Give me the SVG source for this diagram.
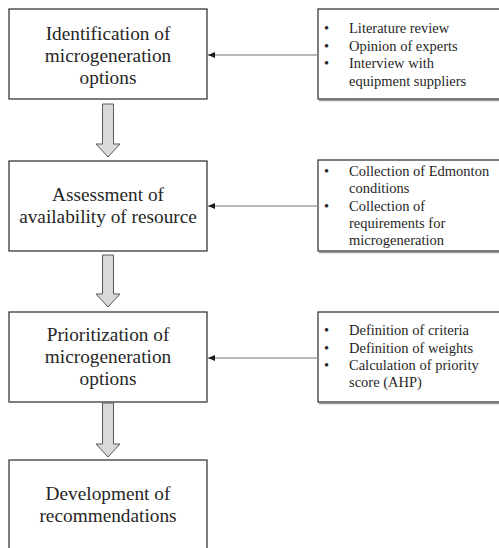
<svg xmlns="http://www.w3.org/2000/svg" width="499" height="548" viewBox="0 0 499 548">
<style>
.box{fill:#ffffff;stroke:#3a3a3a;stroke-width:1.3}
.rbox{fill:#ffffff;stroke:#3a3a3a;stroke-width:1.3}
.shadow{fill:none;stroke:#9a9a9a;stroke-width:1.5}
.big{font-family:"Liberation Serif","Times New Roman",serif;font-size:19.3px;fill:#262626;text-anchor:middle}
.small{font-family:"Liberation Serif","Times New Roman",serif;font-size:14.5px;fill:#262626}
.conn{stroke:#a0a0a0;stroke-width:1.3;fill:none}
.flow{fill:#d9d9d9;stroke:#5a5a5a;stroke-width:1}
</style>
<defs>
<marker id="ah" markerWidth="8" markerHeight="6" refX="7" refY="3" orient="auto" markerUnits="userSpaceOnUse">
<path d="M0,0 L7,3 L0,6 Z" fill="#1a1a1a"/>
</marker>
</defs>
<rect width="499" height="548" fill="#ffffff"/>

<g id="step1">
<rect class="box" x="9" y="9" width="198" height="90"/>
<text class="big" x="108" y="39.5">Identification of</text>
<text class="big" x="108" y="61.5">microgeneration</text>
<text class="big" x="108" y="83.5">options</text>
</g>

<g id="step2">
<rect class="box" x="9" y="161" width="198" height="90"/>
<text class="big" x="108" y="201">Assessment of</text>
<text class="big" x="108" y="223">availability of resource</text>
</g>

<g id="step3">
<rect class="box" x="9" y="312" width="198" height="90"/>
<text class="big" x="108" y="341">Prioritization of</text>
<text class="big" x="108" y="363">microgeneration</text>
<text class="big" x="108" y="385">options</text>
</g>

<g id="step4">
<rect class="box" x="9" y="460" width="198" height="100"/>
<text class="big" x="108" y="500">Development of</text>
<text class="big" x="108" y="522">recommendations</text>
</g>

<g id="methods1">
<line class="shadow" x1="319" y1="100.5" x2="505" y2="100.5"/>
<rect class="rbox" x="318" y="9" width="190" height="90"/>
<text class="small" x="324" y="33">•</text>
<text class="small" x="349" y="33">Literature review</text>
<text class="small" x="324" y="50.5">•</text>
<text class="small" x="349" y="50.5">Opinion of experts</text>
<text class="small" x="324" y="68">•</text>
<text class="small" x="349" y="68">Interview with</text>
<text class="small" x="349" y="85.5">equipment suppliers</text>
</g>

<g id="methods2">
<line class="shadow" x1="319" y1="252.5" x2="505" y2="252.5"/>
<rect class="rbox" x="318" y="160" width="190" height="91"/>
<text class="small" x="324" y="176">•</text>
<text class="small" x="349" y="176">Collection of Edmonton</text>
<text class="small" x="349" y="193.3">conditions</text>
<text class="small" x="324" y="210.6">•</text>
<text class="small" x="349" y="210.6">Collection of</text>
<text class="small" x="349" y="228">requirements for</text>
<text class="small" x="349" y="245.2">microgeneration</text>
</g>

<g id="methods3">
<line class="shadow" x1="319" y1="403.5" x2="505" y2="403.5"/>
<rect class="rbox" x="318" y="312" width="190" height="90"/>
<text class="small" x="324" y="335">•</text>
<text class="small" x="349" y="335">Definition of criteria</text>
<text class="small" x="324" y="352.5">•</text>
<text class="small" x="349" y="352.5">Definition of weights</text>
<text class="small" x="324" y="370">•</text>
<text class="small" x="349" y="370">Calculation of priority</text>
<text class="small" x="349" y="387">score (AHP)</text>
</g>

<g id="connectors">
<line class="conn" x1="317.5" y1="55" x2="208" y2="55" marker-end="url(#ah)"/>
<line class="conn" x1="317.5" y1="206" x2="208" y2="206" marker-end="url(#ah)"/>
<line class="conn" x1="317.5" y1="358" x2="208" y2="358" marker-end="url(#ah)"/>
<path class="flow" d="M102.5,104 H113.5 V144 H120 L108,157 L96,144 H102.5 Z"/>
<path class="flow" d="M102.5,255 H113.5 V294 H120 L108,307 L96,294 H102.5 Z"/>
<path class="flow" d="M102.5,403 H113.5 V444 H120 L108,457 L96,444 H102.5 Z"/>
</g>
</svg>
